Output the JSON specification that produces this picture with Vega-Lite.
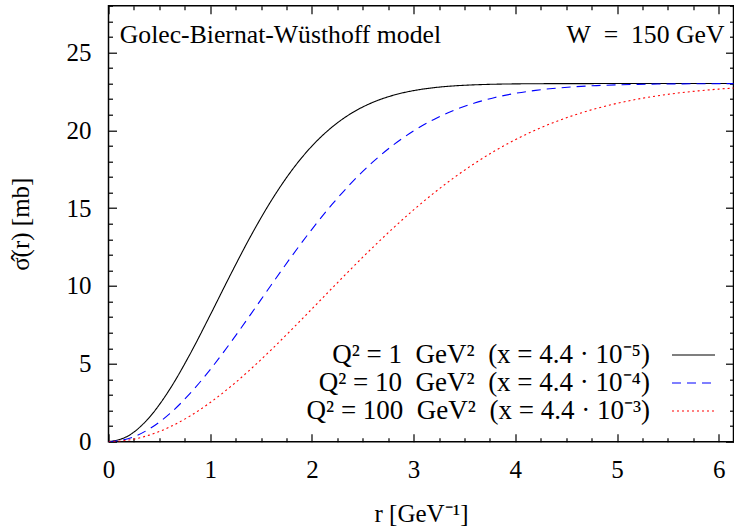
{
  "$schema": "https://vega.github.io/schema/vega-lite/v6.json",
  "width": 625,
  "height": 436,
  "autosize": {"type": "none"},
  "padding": {"left": 108.5, "top": 5.7, "right": 0.5, "bottom": 85.3},
  "config": {
    "view": {"stroke": "#000000", "strokeWidth": 1.5},
    "font": "Liberation Serif",
    "axis": {
      "grid": false, "domain": false, "tickColor": "#000000", "tickWidth": 1.2,
      "labelFont": "Liberation Serif", "labelFontSize": 25, "labelColor": "#000000",
      "titleFont": "Liberation Serif", "titleFontSize": 25, "titleFontWeight": "normal", "titleColor": "#000000",
      "labelOverlap": false, "labelFlush": false
    },
    "legend": {"labelFont": "Liberation Serif"}
  },
  "data": {"values": [
    {"r": 0, "sigma": 0, "series": "Q² = 1 GeV² (x = 4.4·10⁻⁵)"},
    {"r": 0.2, "sigma": 0.398, "series": "Q² = 1 GeV² (x = 4.4·10⁻⁵)"},
    {"r": 0.4, "sigma": 1.551, "series": "Q² = 1 GeV² (x = 4.4·10⁻⁵)"},
    {"r": 0.6, "sigma": 3.343, "series": "Q² = 1 GeV² (x = 4.4·10⁻⁵)"},
    {"r": 0.8, "sigma": 5.604, "series": "Q² = 1 GeV² (x = 4.4·10⁻⁵)"},
    {"r": 1.0, "sigma": 8.132, "series": "Q² = 1 GeV² (x = 4.4·10⁻⁵)"},
    {"r": 1.2, "sigma": 10.729, "series": "Q² = 1 GeV² (x = 4.4·10⁻⁵)"},
    {"r": 1.4, "sigma": 13.220, "series": "Q² = 1 GeV² (x = 4.4·10⁻⁵)"},
    {"r": 1.6, "sigma": 15.473, "series": "Q² = 1 GeV² (x = 4.4·10⁻⁵)"},
    {"r": 1.8, "sigma": 17.405, "series": "Q² = 1 GeV² (x = 4.4·10⁻⁵)"},
    {"r": 2.0, "sigma": 18.984, "series": "Q² = 1 GeV² (x = 4.4·10⁻⁵)"},
    {"r": 2.2, "sigma": 20.216, "series": "Q² = 1 GeV² (x = 4.4·10⁻⁵)"},
    {"r": 2.4, "sigma": 21.137, "series": "Q² = 1 GeV² (x = 4.4·10⁻⁵)"},
    {"r": 2.6, "sigma": 21.795, "series": "Q² = 1 GeV² (x = 4.4·10⁻⁵)"},
    {"r": 2.8, "sigma": 22.248, "series": "Q² = 1 GeV² (x = 4.4·10⁻⁵)"},
    {"r": 3.0, "sigma": 22.547, "series": "Q² = 1 GeV² (x = 4.4·10⁻⁵)"},
    {"r": 3.2, "sigma": 22.736, "series": "Q² = 1 GeV² (x = 4.4·10⁻⁵)"},
    {"r": 3.4, "sigma": 22.852, "series": "Q² = 1 GeV² (x = 4.4·10⁻⁵)"},
    {"r": 3.6, "sigma": 22.919, "series": "Q² = 1 GeV² (x = 4.4·10⁻⁵)"},
    {"r": 3.8, "sigma": 22.958, "series": "Q² = 1 GeV² (x = 4.4·10⁻⁵)"},
    {"r": 4.0, "sigma": 22.979, "series": "Q² = 1 GeV² (x = 4.4·10⁻⁵)"},
    {"r": 4.2, "sigma": 22.990, "series": "Q² = 1 GeV² (x = 4.4·10⁻⁵)"},
    {"r": 4.4, "sigma": 22.995, "series": "Q² = 1 GeV² (x = 4.4·10⁻⁵)"},
    {"r": 4.6, "sigma": 22.998, "series": "Q² = 1 GeV² (x = 4.4·10⁻⁵)"},
    {"r": 4.8, "sigma": 22.999, "series": "Q² = 1 GeV² (x = 4.4·10⁻⁵)"},
    {"r": 5.0, "sigma": 23.0, "series": "Q² = 1 GeV² (x = 4.4·10⁻⁵)"},
    {"r": 5.6, "sigma": 23.0, "series": "Q² = 1 GeV² (x = 4.4·10⁻⁵)"},
    {"r": 6.2, "sigma": 23.0, "series": "Q² = 1 GeV² (x = 4.4·10⁻⁵)"},
    {"r": 0, "sigma": 0, "series": "Q² = 10 GeV² (x = 4.4·10⁻⁴)"},
    {"r": 0.2, "sigma": 0.206, "series": "Q² = 10 GeV² (x = 4.4·10⁻⁴)"},
    {"r": 0.4, "sigma": 0.813, "series": "Q² = 10 GeV² (x = 4.4·10⁻⁴)"},
    {"r": 0.6, "sigma": 1.788, "series": "Q² = 10 GeV² (x = 4.4·10⁻⁴)"},
    {"r": 0.8, "sigma": 3.082, "series": "Q² = 10 GeV² (x = 4.4·10⁻⁴)"},
    {"r": 1.0, "sigma": 4.630, "series": "Q² = 10 GeV² (x = 4.4·10⁻⁴)"},
    {"r": 1.2, "sigma": 6.361, "series": "Q² = 10 GeV² (x = 4.4·10⁻⁴)"},
    {"r": 1.4, "sigma": 8.196, "series": "Q² = 10 GeV² (x = 4.4·10⁻⁴)"},
    {"r": 1.6, "sigma": 10.064, "series": "Q² = 10 GeV² (x = 4.4·10⁻⁴)"},
    {"r": 1.8, "sigma": 11.898, "series": "Q² = 10 GeV² (x = 4.4·10⁻⁴)"},
    {"r": 2.0, "sigma": 13.641, "series": "Q² = 10 GeV² (x = 4.4·10⁻⁴)"},
    {"r": 2.2, "sigma": 15.252, "series": "Q² = 10 GeV² (x = 4.4·10⁻⁴)"},
    {"r": 2.4, "sigma": 16.699, "series": "Q² = 10 GeV² (x = 4.4·10⁻⁴)"},
    {"r": 2.6, "sigma": 17.968, "series": "Q² = 10 GeV² (x = 4.4·10⁻⁴)"},
    {"r": 2.8, "sigma": 19.052, "series": "Q² = 10 GeV² (x = 4.4·10⁻⁴)"},
    {"r": 3.0, "sigma": 19.958, "series": "Q² = 10 GeV² (x = 4.4·10⁻⁴)"},
    {"r": 3.2, "sigma": 20.698, "series": "Q² = 10 GeV² (x = 4.4·10⁻⁴)"},
    {"r": 3.4, "sigma": 21.289, "series": "Q² = 10 GeV² (x = 4.4·10⁻⁴)"},
    {"r": 3.6, "sigma": 21.751, "series": "Q² = 10 GeV² (x = 4.4·10⁻⁴)"},
    {"r": 3.8, "sigma": 22.105, "series": "Q² = 10 GeV² (x = 4.4·10⁻⁴)"},
    {"r": 4.0, "sigma": 22.370, "series": "Q² = 10 GeV² (x = 4.4·10⁻⁴)"},
    {"r": 4.2, "sigma": 22.564, "series": "Q² = 10 GeV² (x = 4.4·10⁻⁴)"},
    {"r": 4.4, "sigma": 22.704, "series": "Q² = 10 GeV² (x = 4.4·10⁻⁴)"},
    {"r": 4.6, "sigma": 22.802, "series": "Q² = 10 GeV² (x = 4.4·10⁻⁴)"},
    {"r": 4.8, "sigma": 22.870, "series": "Q² = 10 GeV² (x = 4.4·10⁻⁴)"},
    {"r": 5.0, "sigma": 22.917, "series": "Q² = 10 GeV² (x = 4.4·10⁻⁴)"},
    {"r": 5.2, "sigma": 22.947, "series": "Q² = 10 GeV² (x = 4.4·10⁻⁴)"},
    {"r": 5.4, "sigma": 22.967, "series": "Q² = 10 GeV² (x = 4.4·10⁻⁴)"},
    {"r": 5.6, "sigma": 22.980, "series": "Q² = 10 GeV² (x = 4.4·10⁻⁴)"},
    {"r": 5.8, "sigma": 22.988, "series": "Q² = 10 GeV² (x = 4.4·10⁻⁴)"},
    {"r": 6.0, "sigma": 22.993, "series": "Q² = 10 GeV² (x = 4.4·10⁻⁴)"},
    {"r": 6.2, "sigma": 22.996, "series": "Q² = 10 GeV² (x = 4.4·10⁻⁴)"},
    {"r": 0, "sigma": 0, "series": "Q² = 100 GeV² (x = 4.4·10⁻³)"},
    {"r": 0.2, "sigma": 0.106, "series": "Q² = 100 GeV² (x = 4.4·10⁻³)"},
    {"r": 0.4, "sigma": 0.422, "series": "Q² = 100 GeV² (x = 4.4·10⁻³)"},
    {"r": 0.6, "sigma": 0.939, "series": "Q² = 100 GeV² (x = 4.4·10⁻³)"},
    {"r": 0.8, "sigma": 1.643, "series": "Q² = 100 GeV² (x = 4.4·10⁻³)"},
    {"r": 1.0, "sigma": 2.515, "series": "Q² = 100 GeV² (x = 4.4·10⁻³)"},
    {"r": 1.2, "sigma": 3.533, "series": "Q² = 100 GeV² (x = 4.4·10⁻³)"},
    {"r": 1.4, "sigma": 4.670, "series": "Q² = 100 GeV² (x = 4.4·10⁻³)"},
    {"r": 1.6, "sigma": 5.901, "series": "Q² = 100 GeV² (x = 4.4·10⁻³)"},
    {"r": 1.8, "sigma": 7.195, "series": "Q² = 100 GeV² (x = 4.4·10⁻³)"},
    {"r": 2.0, "sigma": 8.527, "series": "Q² = 100 GeV² (x = 4.4·10⁻³)"},
    {"r": 2.2, "sigma": 9.868, "series": "Q² = 100 GeV² (x = 4.4·10⁻³)"},
    {"r": 2.4, "sigma": 11.195, "series": "Q² = 100 GeV² (x = 4.4·10⁻³)"},
    {"r": 2.6, "sigma": 12.486, "series": "Q² = 100 GeV² (x = 4.4·10⁻³)"},
    {"r": 2.8, "sigma": 13.722, "series": "Q² = 100 GeV² (x = 4.4·10⁻³)"},
    {"r": 3.0, "sigma": 14.888, "series": "Q² = 100 GeV² (x = 4.4·10⁻³)"},
    {"r": 3.2, "sigma": 15.973, "series": "Q² = 100 GeV² (x = 4.4·10⁻³)"},
    {"r": 3.4, "sigma": 16.969, "series": "Q² = 100 GeV² (x = 4.4·10⁻³)"},
    {"r": 3.6, "sigma": 17.872, "series": "Q² = 100 GeV² (x = 4.4·10⁻³)"},
    {"r": 3.8, "sigma": 18.680, "series": "Q² = 100 GeV² (x = 4.4·10⁻³)"},
    {"r": 4.0, "sigma": 19.394, "series": "Q² = 100 GeV² (x = 4.4·10⁻³)"},
    {"r": 4.2, "sigma": 20.017, "series": "Q² = 100 GeV² (x = 4.4·10⁻³)"},
    {"r": 4.4, "sigma": 20.556, "series": "Q² = 100 GeV² (x = 4.4·10⁻³)"},
    {"r": 4.6, "sigma": 21.016, "series": "Q² = 100 GeV² (x = 4.4·10⁻³)"},
    {"r": 4.8, "sigma": 21.404, "series": "Q² = 100 GeV² (x = 4.4·10⁻³)"},
    {"r": 5.0, "sigma": 21.728, "series": "Q² = 100 GeV² (x = 4.4·10⁻³)"},
    {"r": 5.2, "sigma": 21.996, "series": "Q² = 100 GeV² (x = 4.4·10⁻³)"},
    {"r": 5.4, "sigma": 22.214, "series": "Q² = 100 GeV² (x = 4.4·10⁻³)"},
    {"r": 5.6, "sigma": 22.391, "series": "Q² = 100 GeV² (x = 4.4·10⁻³)"},
    {"r": 5.8, "sigma": 22.532, "series": "Q² = 100 GeV² (x = 4.4·10⁻³)"},
    {"r": 6.0, "sigma": 22.644, "series": "Q² = 100 GeV² (x = 4.4·10⁻³)"},
    {"r": 6.2, "sigma": 22.732, "series": "Q² = 100 GeV² (x = 4.4·10⁻³)"}
  ]},
  "layer": [
    {
      "mark": {"type": "line", "interpolate": "monotone", "strokeWidth": 1.1, "clip": true},
      "encoding": {
        "x": {
          "field": "r", "type": "quantitative",
          "scale": {"domain": [0, 6.1455], "nice": false, "zero": false},
          "axis": {
            "orient": "bottom",
            "values": [0, 0.25, 0.5, 0.75, 1, 1.25, 1.5, 1.75, 2, 2.25, 2.5, 2.75, 3, 3.25, 3.5, 3.75, 4, 4.25, 4.5, 4.75, 5, 5.25, 5.5, 5.75, 6],
            "labelExpr": "datum.value % 1 === 0 ? '' + datum.value : ''",
            "tickSize": {"condition": {"test": "datum.value % 1 !== 0", "value": -4}, "value": -8},
            "labelPadding": 24,
            "title": "r [GeV⁻¹]",
            "titlePadding": 15
          }
        },
        "y": {
          "field": "sigma", "type": "quantitative",
          "scale": {"domain": [0, 28], "nice": false, "zero": false},
          "axis": {
            "orient": "left",
            "values": [0, 1, 2, 3, 4, 5, 6, 7, 8, 9, 10, 11, 12, 13, 14, 15, 16, 17, 18, 19, 20, 21, 22, 23, 24, 25, 26, 27, 28],
            "labelExpr": "datum.value % 5 === 0 ? '' + datum.value : ''",
            "tickSize": {"condition": {"test": "datum.value % 5 !== 0", "value": -4}, "value": -8},
            "labelPadding": 25.5,
            "title": "σ̂(r) [mb]",
            "titlePadding": 33
          }
        },
        "color": {
          "field": "series", "type": "nominal",
          "scale": {"domain": ["Q² = 1 GeV² (x = 4.4·10⁻⁵)", "Q² = 10 GeV² (x = 4.4·10⁻⁴)", "Q² = 100 GeV² (x = 4.4·10⁻³)"], "range": ["#000000", "#0000ff", "#ff0000"]},
          "legend": {
            "title": null, "orient": "none", "legendX": 570, "legendY": 334.3,
            "labelAlign": "right", "labelOffset": -58.5, "labelLimit": 0,
            "labelExpr": "replace(replace(datum.label, ' GeV² (x', '\u2002GeV²\u2002(x'), '·', ' · ')",
            "labelFontSize": 27, "labelColor": "#000000",
            "symbolType": "M-1.536,0H1.536", "symbolSize": 784, "symbolStrokeWidth": 1.2,
            "rowPadding": 0, "padding": 0
          }
        },
        "strokeDash": {
          "field": "series", "type": "nominal",
          "scale": {"domain": ["Q² = 1 GeV² (x = 4.4·10⁻⁵)", "Q² = 10 GeV² (x = 4.4·10⁻⁴)", "Q² = 100 GeV² (x = 4.4·10⁻³)"], "range": [[1, 0], [9, 6], [2, 3]]},
          "legend": {
            "title": null, "orient": "none", "legendX": 570, "legendY": 334.3,
            "labelAlign": "right", "labelOffset": -58.5, "labelLimit": 0,
            "labelExpr": "replace(replace(datum.label, ' GeV² (x', '\u2002GeV²\u2002(x'), '·', ' · ')",
            "labelFontSize": 27, "labelColor": "#000000",
            "symbolType": "M-1.536,0H1.536", "symbolSize": 784, "symbolStrokeWidth": 1.2,
            "rowPadding": 0, "padding": 0
          }
        }
      }
    },
    {
      "data": {"values": [{}]},
      "mark": {"type": "text", "text": "Golec-Biernat-Wüsthoff model", "align": "left", "baseline": "alphabetic", "font": "Liberation Serif", "fontSize": 25.7, "color": "#000000"},
      "encoding": {
        "x": {
          "datum": 0.111, "type": "quantitative",
          "scale": {"domain": [0, 6.1455], "nice": false, "zero": false},
          "axis": {
            "orient": "top",
            "values": [0, 0.25, 0.5, 0.75, 1, 1.25, 1.5, 1.75, 2, 2.25, 2.5, 2.75, 3, 3.25, 3.5, 3.75, 4, 4.25, 4.5, 4.75, 5, 5.25, 5.5, 5.75, 6],
            "labels": false, "title": null,
            "tickSize": {"condition": {"test": "datum.value % 1 !== 0", "value": -4}, "value": -8}
          }
        },
        "y": {
          "datum": 25.6, "type": "quantitative",
          "scale": {"domain": [0, 28], "nice": false, "zero": false},
          "axis": {
            "orient": "right",
            "values": [0, 1, 2, 3, 4, 5, 6, 7, 8, 9, 10, 11, 12, 13, 14, 15, 16, 17, 18, 19, 20, 21, 22, 23, 24, 25, 26, 27, 28],
            "labels": false, "title": null,
            "tickSize": {"condition": {"test": "datum.value % 5 !== 0", "value": -4}, "value": -8}
          }
        }
      }
    },
    {
      "data": {"values": [{}]},
      "mark": {"type": "text", "text": "W\u2002=\u2002150 GeV", "align": "right", "baseline": "alphabetic", "font": "Liberation Serif", "fontSize": 25.7, "color": "#000000"},
      "encoding": {
        "x": {"datum": 6.057, "type": "quantitative", "scale": {"domain": [0, 6.1455], "nice": false, "zero": false}, "axis": null},
        "y": {"datum": 25.6, "type": "quantitative", "scale": {"domain": [0, 28], "nice": false, "zero": false}, "axis": null}
      }
    }
  ],
  "resolve": {"axis": {"x": "independent", "y": "independent"}}
}
